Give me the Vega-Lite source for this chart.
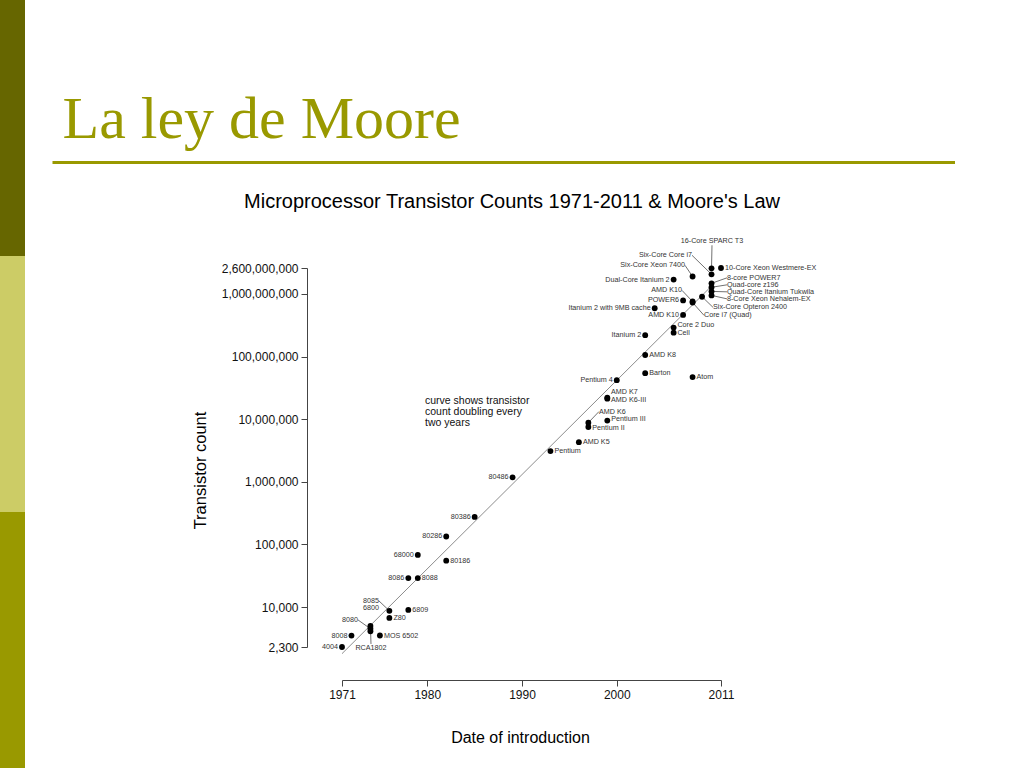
{
  "$schema": "https://vega.github.io/schema/vega-lite/v6.json",
  "padding": 0,
  "background": "white",
  "config": {"view": {"stroke": null}, "font": "Liberation Sans"},
  "datasets": {
    "trend": [
      {"year": 1971, "count": 1800},
      {"year": 2010, "count": 1340000000}
    ],
    "note": [
      {"note": "curve shows transistor\ncount doubling every\ntwo years", "year": 1979.76, "count": 23900000}
    ],
    "chips": [
      {"name": "4004", "year": 1971, "count": 2300, "side": "l"},
      {"name": "8008", "year": 1972, "count": 3500, "side": "l"},
      {"name": "8080", "year": 1974, "count": 4500, "side": "L", "lyear": 1972.69, "lcount": 6220, "leader": true},
      {"name": "6800", "year": 1974, "count": 4100, "side": "L", "lyear": 1974.9, "lcount": 9680, "leader": false},
      {"name": "RCA1802", "year": 1974, "count": 5000, "side": "B", "lyear": 1974.06, "lcount": 2570, "leader": true},
      {"name": "MOS 6502", "year": 1975, "count": 3510, "side": "r"},
      {"name": "8085", "year": 1976, "count": 8700, "side": "L", "lyear": 1974.9, "lcount": 12530, "leader": true},
      {"name": "Z80", "year": 1976, "count": 6700, "side": "r"},
      {"name": "6809", "year": 1978, "count": 9000, "side": "r"},
      {"name": "8086", "year": 1978, "count": 29000, "side": "l"},
      {"name": "8088", "year": 1979, "count": 29000, "side": "r"},
      {"name": "68000", "year": 1979, "count": 68000, "side": "l"},
      {"name": "80186", "year": 1982, "count": 55000, "side": "r"},
      {"name": "80286", "year": 1982, "count": 134000, "side": "l"},
      {"name": "80386", "year": 1985, "count": 275000, "side": "l"},
      {"name": "80486", "year": 1989, "count": 1180000, "side": "l"},
      {"name": "Pentium", "year": 1993, "count": 3100000, "side": "r"},
      {"name": "AMD K5", "year": 1996, "count": 4300000, "side": "r"},
      {"name": "Pentium II", "year": 1997, "count": 7500000, "side": "R", "lyear": 1997.42, "lcount": 7210000, "leader": false},
      {"name": "AMD K6", "year": 1997, "count": 8800000, "side": "R", "lyear": 1998.12, "lcount": 13240000, "leader": true},
      {"name": "Pentium III", "year": 1999, "count": 9500000, "side": "R", "lyear": 1999.42, "lcount": 10050000, "leader": false},
      {"name": "AMD K6-III", "year": 1999, "count": 21300000, "side": "R", "lyear": 1999.39, "lcount": 20600000, "leader": false},
      {"name": "AMD K7", "year": 1999, "count": 22000000, "side": "R", "lyear": 1999.39, "lcount": 26700000, "leader": false},
      {"name": "Pentium 4", "year": 2000, "count": 42000000, "side": "l"},
      {"name": "Barton", "year": 2003, "count": 54300000, "side": "r"},
      {"name": "AMD K8", "year": 2003, "count": 105900000, "side": "r"},
      {"name": "Itanium 2", "year": 2003, "count": 220000000, "side": "l"},
      {"name": "Itanium 2 with 9MB cache", "year": 2004, "count": 592000000, "side": "l"},
      {"name": "Cell", "year": 2006, "count": 241000000, "side": "R", "lyear": 2006.4, "lcount": 239000000, "leader": false},
      {"name": "Core 2 Duo", "year": 2006, "count": 291000000, "side": "R", "lyear": 2006.4, "lcount": 321000000, "leader": false},
      {"name": "AMD K10", "year": 2007, "count": 463000000, "side": "l"},
      {"name": "POWER6", "year": 2007, "count": 789000000, "side": "l"},
      {"name": "AMD K10", "year": 2008, "count": 758000000, "side": "L", "lyear": 2006.88, "lcount": 1143000000, "leader": true},
      {"name": "Core i7 (Quad)", "year": 2008, "count": 731000000, "side": "R", "lyear": 2009.21, "lcount": 455000000, "leader": true},
      {"name": "Atom", "year": 2008, "count": 47000000, "side": "r"},
      {"name": "Dual-Core Itanium 2", "year": 2006, "count": 1700000000, "side": "l"},
      {"name": "Six-Core Xeon 7400", "year": 2008, "count": 1900000000, "side": "L", "lyear": 2007.2, "lcount": 2870000000, "leader": true},
      {"name": "Six-Core Opteron 2400", "year": 2009, "count": 904000000, "side": "R", "lyear": 2010.16, "lcount": 611000000, "leader": true},
      {"name": "8-core POWER7", "year": 2010, "count": 1480000000, "side": "R", "lyear": 2011.63, "lcount": 1811000000, "leader": true},
      {"name": "Quad-core z196", "year": 2010, "count": 1280000000, "side": "R", "lyear": 2011.63, "lcount": 1400000000, "leader": true},
      {"name": "Quad-Core Itanium Tukwila", "year": 2010, "count": 1100000000, "side": "R", "lyear": 2011.63, "lcount": 1082000000, "leader": true},
      {"name": "8-Core Xeon Nehalem-EX", "year": 2010, "count": 950000000, "side": "R", "lyear": 2011.63, "lcount": 836000000, "leader": true},
      {"name": "Six-Core Core i7", "year": 2010, "count": 2060000000, "side": "L", "lyear": 2007.94, "lcount": 4150000000, "leader": true},
      {"name": "16-Core SPARC T3", "year": 2010, "count": 2570000000, "side": "C", "lyear": 2010.05, "lcount": 6000000000, "leader": true},
      {"name": "10-Core Xeon Westmere-EX", "year": 2011, "count": 2600000000, "side": "r"}
    ]
  },
  "bounds": "flush",
  "spacing": 27,
  "hconcat": [
    {
      "width": 25,
      "height": 768,
      "data": {"values": [{"band": "top"}, {"band": "middle"}, {"band": "bottom"}]},
      "mark": {"type": "rect"},
      "encoding": {
        "y": {"field": "band", "type": "nominal", "sort": ["top", "middle", "bottom"], "scale": {"paddingInner": 0, "paddingOuter": 0}, "axis": null},
        "color": {"field": "band", "type": "nominal", "scale": {"domain": ["top", "middle", "bottom"], "range": ["#666600", "#cccc66", "#999900"]}, "legend": null}
      }
    },
    {
      "bounds": "flush",
      "spacing": 106,
      "vconcat": [
        {
          "width": 903,
          "height": 162,
          "data": {"values": [{"slide": "La ley de Moore"}]},
          "mark": {"type": "point", "opacity": 0},
          "encoding": {
            "x": {
              "datum": 0,
              "type": "quantitative",
              "scale": {"domain": [0, 1]},
              "axis": {
                "orient": "bottom",
                "title": "La ley de Moore",
                "ticks": false,
                "labels": false,
                "grid": false,
                "domainColor": "#999900",
                "domainWidth": 3,
                "titleFont": "Liberation Serif",
                "titleFontSize": 60,
                "titleFontWeight": "normal",
                "titleColor": "#999900",
                "titleAnchor": "start",
                "titleAlign": "left",
                "titleBaseline": "alphabetic",
                "titleX": 10,
                "titleY": -25
              }
            }
          }
        },
        {
          "bounds": "flush",
          "spacing": 289,
          "hconcat": [
            {
              "width": 1,
              "height": 1,
              "data": {"values": [{"spacer": 1}]},
              "mark": {"type": "point", "opacity": 0}
            },
            {
              "width": 379,
              "height": 379,
              "title": {
                "text": "Microprocessor Transistor Counts 1971-2011 & Moore's Law",
                "font": "Liberation Sans",
                "fontSize": 20,
                "fontWeight": "normal",
                "color": "#000000",
                "frame": "group",
                "anchor": "middle",
                "dx": -19.5,
                "offset": 25
              },
              "layer": [
                {
                  "data": {"name": "trend"},
                  "mark": {"type": "line", "color": "#8c8c8c", "strokeWidth": 1},
                  "encoding": {
                    "x": {"field": "year", "type": "quantitative", "title": "Date of introduction", "scale": {"domain": [1971, 2011], "nice": false, "zero": false}},
                    "y": {"field": "count", "type": "quantitative", "title": "Transistor count", "scale": {"type": "log", "domain": [2300, 2600000000], "nice": false}}
                  }
                },
                {
                  "data": {"name": "chips"},
                  "transform": [{"filter": "datum.leader === true"}],
                  "mark": {"type": "rule", "color": "#333333", "strokeWidth": 0.7},
                  "encoding": {
                    "x": {"field": "lyear", "type": "quantitative", "title": "Date of introduction", "scale": {"domain": [1971, 2011], "nice": false, "zero": false}},
                    "y": {"field": "lcount", "type": "quantitative", "title": "Transistor count", "scale": {"type": "log", "domain": [2300, 2600000000], "nice": false}},
                    "x2": {"field": "year"},
                    "y2": {"field": "count"}
                  }
                },
                {
                  "data": {"name": "chips"},
                  "mark": {"type": "circle", "size": 34, "color": "#000000", "opacity": 1},
                  "encoding": {
                    "x": {
                      "field": "year", "type": "quantitative", "title": "Date of introduction",
                      "scale": {"domain": [1971, 2011], "nice": false, "zero": false},
                      "axis": {
                        "values": [1971, 1980, 1990, 2000, 2011],
                        "format": "d",
                        "offset": 33,
                        "grid": false,
                        "labelFlush": false,
                        "labelOverlap": false,
                        "tickSize": 6,
                        "labelPadding": 3,
                        "labelFontSize": 12,
                        "labelFont": "Liberation Sans",
                        "labelColor": "#111111",
                        "domainColor": "#444444",
                        "tickColor": "#444444",
                        "titleFont": "Liberation Sans",
                        "titleFontSize": 16,
                        "titleFontWeight": "normal",
                        "titleColor": "#000000",
                        "titlePadding": 29,
                        "titleX": 178
                      }
                    },
                    "y": {
                      "field": "count", "type": "quantitative", "title": "Transistor count",
                      "scale": {"type": "log", "domain": [2300, 2600000000], "nice": false},
                      "axis": {
                        "values": [2300, 10000, 100000, 1000000, 10000000, 100000000, 1000000000, 2600000000],
                        "format": ",",
                        "offset": 35,
                        "grid": false,
                        "labelFlush": false,
                        "labelOverlap": false,
                        "tickSize": 6,
                        "labelPadding": 3,
                        "labelFontSize": 12,
                        "labelFont": "Liberation Sans",
                        "labelColor": "#111111",
                        "domainColor": "#444444",
                        "tickColor": "#444444",
                        "titleFont": "Liberation Sans",
                        "titleFontSize": 16.5,
                        "titleFontWeight": "normal",
                        "titleColor": "#000000",
                        "titlePadding": 13,
                        "titleY": 202
                      }
                    }
                  }
                },
                {
                  "data": {"name": "chips"},
                  "transform": [{"filter": "datum.side === 'r'"}],
                  "mark": {"type": "text", "align": "left", "baseline": "middle", "dx": 4, "fontSize": 7.2, "color": "#333333"},
                  "encoding": {
                    "x": {"field": "year", "type": "quantitative", "title": "Date of introduction", "scale": {"domain": [1971, 2011], "nice": false, "zero": false}},
                    "y": {"field": "count", "type": "quantitative", "title": "Transistor count", "scale": {"type": "log", "domain": [2300, 2600000000], "nice": false}},
                    "text": {"field": "name"}
                  }
                },
                {
                  "data": {"name": "chips"},
                  "transform": [{"filter": "datum.side === 'l'"}],
                  "mark": {"type": "text", "align": "right", "baseline": "middle", "dx": -4, "fontSize": 7.2, "color": "#333333"},
                  "encoding": {
                    "x": {"field": "year", "type": "quantitative", "title": "Date of introduction", "scale": {"domain": [1971, 2011], "nice": false, "zero": false}},
                    "y": {"field": "count", "type": "quantitative", "title": "Transistor count", "scale": {"type": "log", "domain": [2300, 2600000000], "nice": false}},
                    "text": {"field": "name"}
                  }
                },
                {
                  "data": {"name": "chips"},
                  "transform": [{"filter": "datum.side === 'R'"}],
                  "mark": {"type": "text", "align": "left", "baseline": "middle", "fontSize": 7.2, "color": "#333333"},
                  "encoding": {
                    "x": {"field": "lyear", "type": "quantitative", "title": "Date of introduction", "scale": {"domain": [1971, 2011], "nice": false, "zero": false}},
                    "y": {"field": "lcount", "type": "quantitative", "title": "Transistor count", "scale": {"type": "log", "domain": [2300, 2600000000], "nice": false}},
                    "text": {"field": "name"}
                  }
                },
                {
                  "data": {"name": "chips"},
                  "transform": [{"filter": "datum.side === 'L'"}],
                  "mark": {"type": "text", "align": "right", "baseline": "middle", "fontSize": 7.2, "color": "#333333"},
                  "encoding": {
                    "x": {"field": "lyear", "type": "quantitative", "title": "Date of introduction", "scale": {"domain": [1971, 2011], "nice": false, "zero": false}},
                    "y": {"field": "lcount", "type": "quantitative", "title": "Transistor count", "scale": {"type": "log", "domain": [2300, 2600000000], "nice": false}},
                    "text": {"field": "name"}
                  }
                },
                {
                  "data": {"name": "chips"},
                  "transform": [{"filter": "datum.side === 'C'"}],
                  "mark": {"type": "text", "align": "center", "baseline": "bottom", "fontSize": 7.2, "color": "#333333"},
                  "encoding": {
                    "x": {"field": "lyear", "type": "quantitative", "title": "Date of introduction", "scale": {"domain": [1971, 2011], "nice": false, "zero": false}},
                    "y": {"field": "lcount", "type": "quantitative", "title": "Transistor count", "scale": {"type": "log", "domain": [2300, 2600000000], "nice": false}},
                    "text": {"field": "name"}
                  }
                },
                {
                  "data": {"name": "chips"},
                  "transform": [{"filter": "datum.side === 'B'"}],
                  "mark": {"type": "text", "align": "center", "baseline": "top", "fontSize": 7.2, "color": "#333333"},
                  "encoding": {
                    "x": {"field": "lyear", "type": "quantitative", "title": "Date of introduction", "scale": {"domain": [1971, 2011], "nice": false, "zero": false}},
                    "y": {"field": "lcount", "type": "quantitative", "title": "Transistor count", "scale": {"type": "log", "domain": [2300, 2600000000], "nice": false}},
                    "text": {"field": "name"}
                  }
                },
                {
                  "data": {"name": "note"},
                  "mark": {"type": "text", "align": "left", "baseline": "top", "fontSize": 10.5, "lineHeight": 11, "lineBreak": "\n", "color": "#111111"},
                  "encoding": {
                    "x": {"field": "year", "type": "quantitative", "title": "Date of introduction", "scale": {"domain": [1971, 2011], "nice": false, "zero": false}},
                    "y": {"field": "count", "type": "quantitative", "title": "Transistor count", "scale": {"type": "log", "domain": [2300, 2600000000], "nice": false}},
                    "text": {"field": "note"}
                  }
                }
              ]
            }
          ]
        }
      ]
    }
  ]
}
